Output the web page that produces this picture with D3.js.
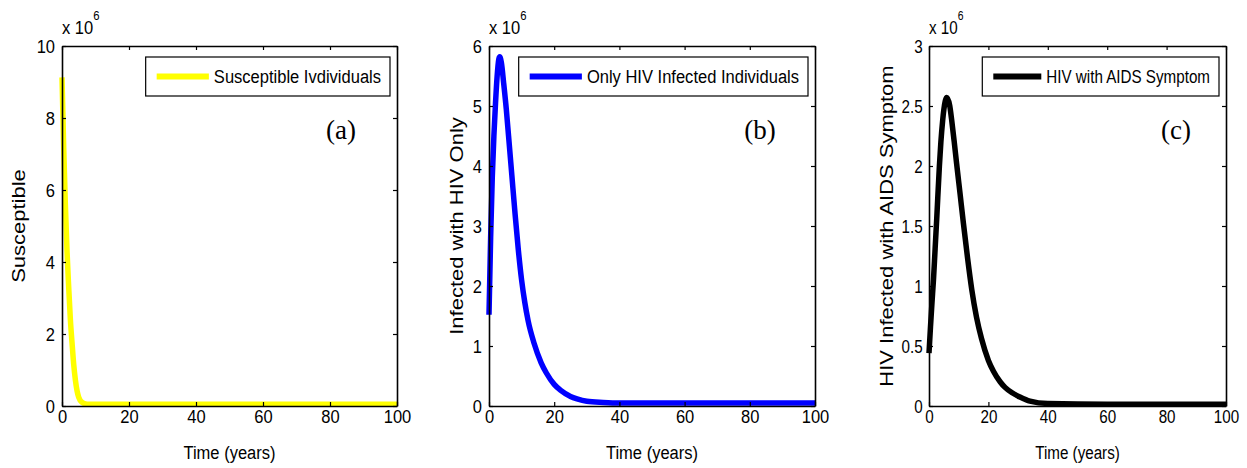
<!DOCTYPE html>
<html>
<head>
<meta charset="utf-8">
<script src="https://cdn.jsdelivr.net/npm/d3@7"></script>
<style>
  body { margin: 0; background: #fff; }
  .tick text, .cond { font-family: "Liberation Sans", Arial, sans-serif; }
</style>
</head>
<body>
<div id="chart"></div>
<script>
const width = 1247;
const height = 468;

// values, in units of 10^6 people
const timeA = [0, 0.5, 1, 1.5, 2, 2.5, 3, 3.5, 4, 4.5, 5, 6, 7, 8, 10, 20, 40, 60, 80, 100];
const susceptible = [9.13, 7.2, 5.6, 4.3, 3.3, 2.4, 1.75, 1.15, 0.72, 0.42, 0.24, 0.1, 0.06, 0.05, 0.05, 0.05, 0.05, 0.05, 0.05, 0.05];

const timeB = [0, 0.5, 1, 1.5, 2, 2.5, 3, 3.3, 3.8, 4.5, 5.3, 6, 7, 8, 9, 10, 11, 12, 13.8, 16, 17.6, 20, 22, 25, 27, 30, 35, 40, 60, 80, 100];
const hivOnly = [1.52, 2.8, 3.8, 4.5, 5.05, 5.5, 5.78, 5.82, 5.72, 5.38, 4.95, 4.5, 3.85, 3.2, 2.6, 2.1, 1.72, 1.42, 1.05, 0.72, 0.55, 0.36, 0.26, 0.16, 0.12, 0.08, 0.06, 0.05, 0.05, 0.05, 0.05];

const timeC = [0, 0.5, 1, 1.5, 2, 2.6, 3.5, 4, 4.6, 5, 6, 7, 7.6, 8.5, 9.3, 10.5, 11.6, 13, 14.4, 16, 17.7, 20, 21.7, 24, 25.6, 28, 30.6, 34, 40, 60, 80, 100];
const aidsSymptom = [0.44, 0.66, 0.86, 1.05, 1.28, 1.56, 2.0, 2.2, 2.38, 2.47, 2.57, 2.5, 2.39, 2.2, 2.02, 1.76, 1.52, 1.23, 0.97, 0.74, 0.56, 0.38, 0.29, 0.2, 0.155, 0.11, 0.075, 0.04, 0.02, 0.015, 0.015, 0.015];

const xTicks = [0, 20, 40, 60, 80, 100];
const yTicksA = [0, 2, 4, 6, 8, 10];
const yTicksB = [0, 1, 2, 3, 4, 5, 6];
const yTicksC = [0, 0.5, 1, 1.5, 2, 2.5, 3];

const legendNames = ["Susceptible Ivdividuals", "Only HIV Infected Individuals", "HIV with AIDS Symptom"];
const yLabels = ["Susceptible", "Infected with HIV Only", "HIV Infected with AIDS Symptom"];
const panelTags = ["(a)", "(b)", "(c)"];

// each sub-figure was squeezed sideways by a slightly different amount
const panels = [
    { t: timeA, v: susceptible, yTicks: yTicksA, color: "#ffff00", left: 62, right: 397, ylabX: 18, tagX: 341, sq: 0.87 },
    { t: timeB, v: hivOnly, yTicks: yTicksB, color: "#0000ff", left: 489, right: 815, ylabX: 456, tagX: 760, sq: 0.87 },
    { t: timeC, v: aidsSymptom, yTicks: yTicksC, color: "#000000", left: 929, right: 1226, ylabX: 886, tagX: 1176, sq: 0.8 }
];
const plotTop = 46, plotBottom = 406;

const svg = d3.select("#chart").append("svg")
    .attr("width", width)
    .attr("height", height);

function condText(g, x, y, size, str, sq, anchor) {
    return g.append("text")
        .attr("class", "cond")
        .attr("transform", `translate(${x},${y}) scale(${sq},1)`)
        .attr("text-anchor", anchor || "start")
        .attr("font-size", size)
        .text(str);
}

panels.forEach((p, i) => {
    const x = d3.scaleLinear().domain([0, 100]).range([p.left, p.right]);
    const y = d3.scaleLinear().domain([0, d3.max(p.yTicks)]).range([plotBottom, plotTop]);
    const g = svg.append("g");

    // data line
    const line = d3.line()
        .x((d, j) => x(p.t[j]))
        .y(d => y(d))
        .curve(d3.curveMonotoneX);
    g.append("path")
        .datum(p.v)
        .attr("d", line)
        .attr("fill", "none")
        .attr("stroke", p.color)
        .attr("stroke-width", 5.5)
        .attr("stroke-linejoin", "round");

    // axes, ticks pointing inward on all four sides
    const styleAxis = sel => {
        sel.select(".domain").attr("stroke", "#000").attr("stroke-width", 1.6);
        sel.selectAll(".tick line").attr("stroke", "#000").attr("stroke-width", 1.2);
        sel.selectAll(".tick text").attr("fill", "#000").attr("font-size", 19)
            .attr("transform", `scale(${p.sq},1)`);
    };
    g.append("g")
        .attr("transform", `translate(0,${plotBottom})`)
        .call(d3.axisBottom(x).tickValues(xTicks).tickSizeInner(-4).tickSizeOuter(0).tickPadding(4))
        .call(styleAxis);
    g.append("g")
        .attr("transform", `translate(0,${plotTop})`)
        .call(d3.axisTop(x).tickValues(xTicks).tickSizeInner(-4).tickSizeOuter(0).tickFormat(""))
        .call(styleAxis);
    g.append("g")
        .attr("transform", `translate(${p.left},0)`)
        .call(d3.axisLeft(y).tickValues(p.yTicks).tickSizeInner(-4).tickSizeOuter(0).tickPadding(8).tickFormat(d3.format("")))
        .call(styleAxis);
    g.append("g")
        .attr("transform", `translate(${p.right},0)`)
        .call(d3.axisRight(y).tickValues(p.yTicks).tickSizeInner(-4).tickSizeOuter(0).tickFormat(""))
        .call(styleAxis);

    // exponent label
    const ex = condText(g, p.left, 34, 19, null, p.sq);
    ex.append("tspan").text("x 10");
    ex.append("tspan").attr("dy", -14).attr("font-size", 13).text("6");

    // axis labels
    condText(g, (p.left + p.right) / 2, 459, 19, "Time (years)", p.sq, "middle");
    g.append("text")
        .attr("transform", `translate(${p.ylabX + 7},${(plotTop + plotBottom) / 2}) rotate(-90) scale(1,${p.sq})`)
        .attr("text-anchor", "middle")
        .attr("font-family", "Liberation Sans, Arial, sans-serif")
        .attr("font-size", 22)
        .text(yLabels[i]);

    // panel tag
    g.append("text")
        .attr("x", p.tagX)
        .attr("y", 139)
        .attr("text-anchor", "middle")
        .attr("font-family", "Liberation Serif, Times New Roman, serif")
        .attr("font-size", 27)
        .text(panelTags[i]);

    // legend
    const lg = g.append("g");
    const boxRight = p.right - 7;
    const lt = condText(lg, 0, 83, 19, legendNames[i], p.sq);
    const tw = lt.node().getComputedTextLength() * p.sq;
    const sampleLen = 60 * p.sq;
    const boxLeft = boxRight - (11 + sampleLen + 5 + tw + 9);
    lt.attr("transform", `translate(${boxLeft + 16 + sampleLen},83) scale(${p.sq},1)`);
    lg.insert("rect", "text")
        .attr("x", boxLeft)
        .attr("y", 57)
        .attr("width", boxRight - boxLeft)
        .attr("height", 39)
        .attr("fill", "#fff")
        .attr("stroke", "#000")
        .attr("stroke-width", 1.2);
    lg.append("line")
        .attr("x1", boxLeft + 11)
        .attr("x2", boxLeft + 11 + sampleLen)
        .attr("y1", 76.5)
        .attr("y2", 76.5)
        .attr("stroke", p.color)
        .attr("stroke-width", 6);
});
</script>
</body>
</html>
